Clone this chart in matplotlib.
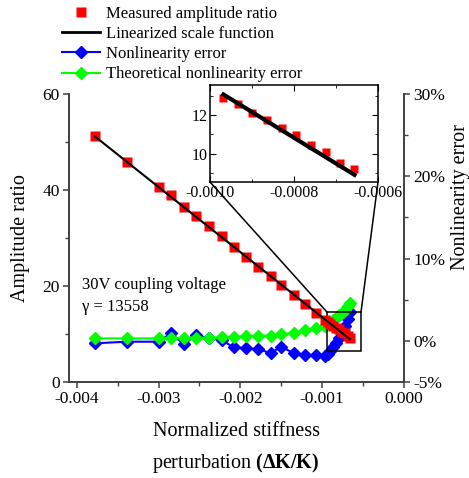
import numpy as np
import matplotlib
matplotlib.use("Agg")
import matplotlib.pyplot as plt
from matplotlib.lines import Line2D
from matplotlib.patches import Rectangle, ConnectionPatch
from matplotlib.ticker import FormatStrFormatter, FixedLocator

plt.rcParams['font.family'] = ['Liberation Serif', 'DejaVu Serif']
plt.rcParams['mathtext.fontset'] = 'custom'
plt.rcParams['mathtext.rm'] = 'Liberation Serif'
plt.rcParams['mathtext.bf'] = 'Liberation Serif:bold'
plt.rcParams['axes.unicode_minus'] = False

# stiffness perturbation (dK/K) of each measurement
dk = [-0.00378, -0.00338, -0.00300, -0.00285, -0.00269, -0.00254, -0.00238,
      -0.00223, -0.00208, -0.00193, -0.00178, -0.00163, -0.00150, -0.00135,
      -0.00121, -0.00107,
      -0.000968, -0.000933, -0.000899, -0.000864, -0.000829, -0.000795,
      -0.000760, -0.000725, -0.000690, -0.000656]

# measured amplitude ratio
amp = [51.2, 45.9, 40.6, 38.9, 36.4, 34.6, 32.6, 30.4, 28.2, 26.1, 24.0, 22.0,
       20.2, 18.1, 16.2, 14.4,
       12.86, 12.55, 12.12, 11.74, 11.32, 10.97, 10.46, 10.12, 9.55, 9.21]

# nonlinearity error in percent
err = [-0.3, -0.1, -0.1, 0.9, -0.4, 0.7, 0.3, 0.1, -0.8, -0.9, -1.0, -1.5,
       -0.7, -1.5, -1.7, -1.7,
       -1.8, -1.6, -1.2, -0.8, -0.2, 0.4, 1.0, 1.8, 2.6, 3.5]

# theoretical nonlinearity error in percent
err_theory = [0.3, 0.3, 0.3, 0.35, 0.35, 0.4, 0.4, 0.45, 0.5, 0.55, 0.6, 0.65,
              0.8, 1.0, 1.3, 1.6,
              1.8, 2.0, 2.2, 2.5, 2.8, 3.1, 3.4, 3.8, 4.2, 4.6]

# linearized scale function end points (gamma = 13558)
fit_x = [-0.00378, -0.00066]
fit_y = [51.2, 8.9]
inset_fit_x = [-0.000968, -0.000656]
inset_fit_y = [13.06, 8.92]

# zoom box drawn in the main plot
box_x = [-0.000938, -0.000526]
box_y = [6.5, 14.5]

W, H = 469, 478
fig = plt.figure(figsize=(W / 100, H / 100), dpi=100)
ax = fig.add_axes([69 / W, 96 / H, 335 / W, 288 / H])
ax2 = ax.twinx()
ax.set_zorder(ax2.get_zorder() + 1)
ax.patch.set_visible(False)

spine_c = '#404040'

# errors on the right axis
ax2.plot(dk, err, color='blue', marker='D', ms=6, lw=1.5)
ax2.plot(dk, err_theory, color='#00ff00', marker='D', ms=6, lw=1.5)

# amplitude ratio on the left axis
ax.plot(dk, amp, ls='none', marker='s', ms=7.7, color='red', mec='none')
ax.plot(fit_x, fit_y, color='k', lw=1.5)
ax.add_patch(Rectangle((box_x[0], box_y[0]), box_x[1] - box_x[0],
                       box_y[1] - box_y[0], fill=False, ec='k', lw=1.1))

ax.set_xlim(-0.004094, 0.0)
ax.set_ylim(0, 60)
ax2.set_ylim(-5, 30)

ax.set_xticks([-0.004, -0.003, -0.002, -0.001, 0.0])
ax.xaxis.set_minor_locator(FixedLocator([-0.0035, -0.0025, -0.0015, -0.0005]))
ax.xaxis.set_major_formatter(FormatStrFormatter('%.3f'))
ax.set_yticks([0, 20, 40, 60])
ax.yaxis.set_minor_locator(FixedLocator([10, 30, 50]))
ax2.set_yticks([-5, 0, 10, 20, 30])
ax2.yaxis.set_minor_locator(FixedLocator([5, 15, 25]))
ax2.yaxis.set_major_formatter(FormatStrFormatter('%d%%'))

for a in (ax, ax2):
    a.spines['top'].set_visible(False)
    for s in ('left', 'right', 'bottom'):
        a.spines[s].set_color(spine_c)
        a.spines[s].set_linewidth(1.2)
    a.tick_params(which='major', direction='out', length=4.5, width=1.1,
                  color=spine_c, labelsize=12.5, pad=2)
    a.tick_params(which='minor', direction='out', length=3, width=1.0,
                  color=spine_c)

fig.text(236 / W, 1 - 432 / H, 'Normalized stiffness', ha='center',
         va='center', fontsize=14.5)
fig.text(236 / W, 1 - 463 / H, 'perturbation $\\mathbf{(\\Delta K/K)}$',
         ha='center', va='center', fontsize=14.5)
fig.text(20 / W, 1 - 238 / H, 'Amplitude ratio', rotation=90,
         ha='center', va='center', fontsize=14.5)
fig.text(460 / W, 1 - 197 / H, 'Nonlinearity error', rotation=90,
         ha='center', va='center', fontsize=14.5)

ax.text(-0.00394, 20.2, '30V coupling voltage', fontsize=12, va='center')
ax.text(-0.00394, 15.6, '\u03b3 = 13558', fontsize=12, va='center')

# inset
axin = fig.add_axes([210 / W, 1 - 182 / H, 168 / W, 97 / H])
axin.set_zorder(ax.get_zorder() + 1)
axin.plot(dk[16:], amp[16:], ls='none', marker='s', ms=6, color='red',
          mec='none')
axin.plot(inset_fit_x, inset_fit_y, color='k', lw=3)
axin.set_xlim(-0.0010, -0.0006)
axin.set_ylim(8.55, 13.55)
axin.set_xticks([-0.0010, -0.0008, -0.0006])
axin.xaxis.set_minor_locator(FixedLocator([-0.0009, -0.0007]))
axin.xaxis.set_major_formatter(FormatStrFormatter('%.4f'))
axin.set_yticks([10, 12])
axin.yaxis.set_minor_locator(FixedLocator([9, 11, 13]))
for s in axin.spines.values():
    s.set_linewidth(1.1)
axin.tick_params(which='both', direction='in', top=True, right=True,
                 labelsize=11.5, pad=2)
axin.tick_params(which='major', length=4)
axin.tick_params(which='minor', length=2.5)

for xa, xb in ((0, box_x[0]), (1, box_x[1])):
    con = ConnectionPatch(xyA=(xa, 0), coordsA=axin.transAxes,
                          xyB=(xb, box_y[1]), coordsB=ax.transData,
                          color='k', lw=1.1)
    fig.add_artist(con)

handles = [
    Line2D([], [], ls='none', marker='s', ms=7.7, color='red', mec='none'),
    Line2D([], [], color='k', lw=2),
    Line2D([], [], color='blue', marker='D', ms=6, lw=1.5),
    Line2D([], [], color='#00ff00', marker='D', ms=6, lw=1.5),
]
labels = ['Measured amplitude ratio', 'Linearized scale function',
          'Nonlinearity error', 'Theoretical nonlinearity error']
fig.legend(handles, labels, loc='upper left',
           bbox_to_anchor=(62 / W, 1 - 6 / H), frameon=False, fontsize=12,
           handlelength=2.3, handletextpad=0.35, labelspacing=0.25,
           borderpad=0, borderaxespad=0)

fig.savefig('out.png', dpi=100)
